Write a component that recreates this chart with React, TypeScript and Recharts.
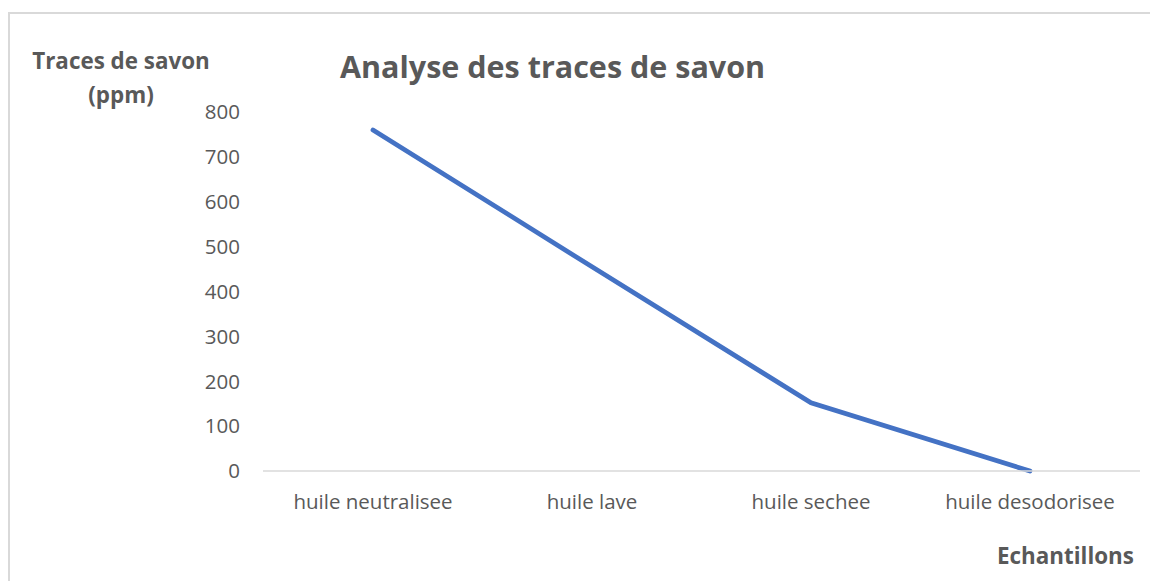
import React from "react";
import { LineChart, Line, XAxis, YAxis } from "recharts";

const categories = ["huile neutralisee", "huile lave", "huile sechee", "huile desodorisee"];
const savonValues = [760, 455, 152, 0];
const yTicks = [0, 100, 200, 300, 400, 500, 600, 700, 800];

const data = categories.map((c, i) => ({ name: c, value: savonValues[i] }));

const FONT = "'Open Sans', sans-serif";
const TXT = "#595959";

export default function App() {
  return (
    <div style={{ position: "relative", width: 1150, height: 573, fontFamily: FONT }}>
      <div
        style={{
          position: "absolute",
          left: 0,
          top: 4,
          width: 1146,
          height: 580,
          border: "2px solid #d9d9d9",
          boxSizing: "border-box",
        }}
      />
      <div style={{ position: "absolute", left: 0, top: 0 }}>
        <LineChart width={1150} height={573} data={data} margin={{ top: 104, right: 18, bottom: 80, left: 195 }}>
          <XAxis
            dataKey="name"
            height={30}
            tickLine={false}
            axisLine={{ stroke: "#d9d9d9", strokeWidth: 1.5 }}
            tick={{ fill: TXT, fontSize: 20.5, fontFamily: FONT }}
            tickMargin={17}
            interval={0}
            padding={{ left: 110, right: 110 }}
          />
          <YAxis
            width={60}
            domain={[0, 800]}
            ticks={yTicks}
            tickLine={false}
            axisLine={false}
            tick={{ fill: TXT, fontSize: 20.5, fontFamily: FONT }}
            tickMargin={17}
          />
          <Line
            type="linear"
            dataKey="value"
            stroke="#4472C4"
            strokeWidth={4.75}
            strokeLinecap="round"
            dot={false}
            isAnimationActive={false}
          />
        </LineChart>
      </div>
      <div
        style={{
          position: "absolute",
          left: 332,
          top: 37,
          fontSize: 30.5,
          fontWeight: 700,
          color: TXT,
          whiteSpace: "nowrap",
        }}
      >
        Analyse des traces de savon
      </div>
      <div
        style={{
          position: "absolute",
          left: 13,
          top: 36,
          width: 200,
          fontSize: 22.4,
          fontWeight: 700,
          color: TXT,
          textAlign: "center",
          lineHeight: "34px",
        }}
      >
        Traces de savon
        <br />
        (ppm)
      </div>
      <div
        style={{
          position: "absolute",
          left: 989,
          top: 532,
          fontSize: 22.4,
          fontWeight: 700,
          color: TXT,
          whiteSpace: "nowrap",
        }}
      >
        Echantillons
      </div>
    </div>
  );
}
